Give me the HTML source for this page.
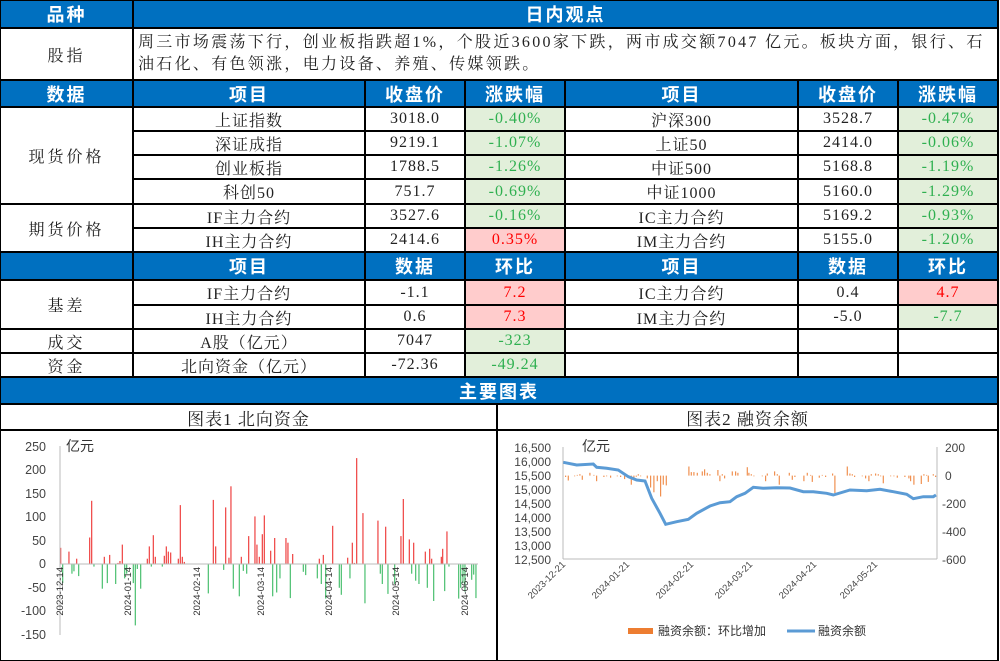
<!DOCTYPE html>
<html><head><meta charset="utf-8"><style>
body{margin:0;width:1000px;height:661px;background:#fff;position:relative;overflow:hidden;font-family:"Liberation Serif","Noto Serif CJK SC",serif;}
.c{position:absolute;box-sizing:border-box;border:1px solid #000;outline:1px solid #000;display:flex;align-items:center;justify-content:center;font-size:16px;letter-spacing:1px;color:#222;white-space:nowrap;background:#fff}
.h{background:#0070c0;color:#fff;font-family:"Liberation Sans","Noto Sans CJK SC",sans-serif;font-weight:bold;font-size:18px;letter-spacing:2px}
.g{background:#e2efda;color:#2fb050}
.r{background:#ffcccc;color:#f00}
svg text{font-family:"Liberation Sans","Noto Sans CJK SC",sans-serif}
</style></head><body>
<div class="c h" style="left:0;top:0;width:133px;height:28px">品种</div>
<div class="c h" style="left:133px;top:0;width:865px;height:28px">日内观点</div>
<div class="c" style="left:0;top:28px;width:133px;height:52px;letter-spacing:3px">股指</div>
<div class="c" style="left:133px;top:28px;width:865px;height:52px;justify-content:flex-start;align-items:flex-start;white-space:normal;line-height:22px;padding:3px 4px;letter-spacing:2.3px">周三市场震荡下行，创业板指跌超1%，个股近3600家下跌，两市成交额7047 亿元。板块方面，银行、石油石化、有色领涨，电力设备、养殖、传媒领跌。</div>

<div class="c h" style="left:0;top:80px;width:133px;height:27px">数据</div>
<div class="c h" style="left:133px;top:80px;width:232px;height:27px">项目</div>
<div class="c h" style="left:365px;top:80px;width:100px;height:27px">收盘价</div>
<div class="c h" style="left:465px;top:80px;width:100px;height:27px">涨跌幅</div>
<div class="c h" style="left:565px;top:80px;width:233px;height:27px">项目</div>
<div class="c h" style="left:798px;top:80px;width:100px;height:27px">收盘价</div>
<div class="c h" style="left:898px;top:80px;width:100px;height:27px">涨跌幅</div>

<div class="c" style="left:0;top:107px;width:133px;height:97px;letter-spacing:3px">现货价格</div>
<div class="c" style="left:0;top:204px;width:133px;height:48px;letter-spacing:3px">期货价格</div>

<div class="c" style="left:133px;top:107px;width:232px;height:24px">上证指数</div>
<div class="c" style="left:365px;top:107px;width:100px;height:24px">3018.0</div>
<div class="c g" style="left:465px;top:107px;width:100px;height:24px">-0.40%</div>
<div class="c" style="left:565px;top:107px;width:233px;height:24px">沪深300</div>
<div class="c" style="left:798px;top:107px;width:100px;height:24px">3528.7</div>
<div class="c g" style="left:898px;top:107px;width:100px;height:24px">-0.47%</div>

<div class="c" style="left:133px;top:131px;width:232px;height:24px">深证成指</div>
<div class="c" style="left:365px;top:131px;width:100px;height:24px">9219.1</div>
<div class="c g" style="left:465px;top:131px;width:100px;height:24px">-1.07%</div>
<div class="c" style="left:565px;top:131px;width:233px;height:24px">上证50</div>
<div class="c" style="left:798px;top:131px;width:100px;height:24px">2414.0</div>
<div class="c g" style="left:898px;top:131px;width:100px;height:24px">-0.06%</div>

<div class="c" style="left:133px;top:155px;width:232px;height:24px">创业板指</div>
<div class="c" style="left:365px;top:155px;width:100px;height:24px">1788.5</div>
<div class="c g" style="left:465px;top:155px;width:100px;height:24px">-1.26%</div>
<div class="c" style="left:565px;top:155px;width:233px;height:24px">中证500</div>
<div class="c" style="left:798px;top:155px;width:100px;height:24px">5168.8</div>
<div class="c g" style="left:898px;top:155px;width:100px;height:24px">-1.19%</div>

<div class="c" style="left:133px;top:179px;width:232px;height:25px">科创50</div>
<div class="c" style="left:365px;top:179px;width:100px;height:25px">751.7</div>
<div class="c g" style="left:465px;top:179px;width:100px;height:25px">-0.69%</div>
<div class="c" style="left:565px;top:179px;width:233px;height:25px">中证1000</div>
<div class="c" style="left:798px;top:179px;width:100px;height:25px">5160.0</div>
<div class="c g" style="left:898px;top:179px;width:100px;height:25px">-1.29%</div>

<div class="c" style="left:133px;top:204px;width:232px;height:24px">IF主力合约</div>
<div class="c" style="left:365px;top:204px;width:100px;height:24px">3527.6</div>
<div class="c g" style="left:465px;top:204px;width:100px;height:24px">-0.16%</div>
<div class="c" style="left:565px;top:204px;width:233px;height:24px">IC主力合约</div>
<div class="c" style="left:798px;top:204px;width:100px;height:24px">5169.2</div>
<div class="c g" style="left:898px;top:204px;width:100px;height:24px">-0.93%</div>

<div class="c" style="left:133px;top:228px;width:232px;height:24px">IH主力合约</div>
<div class="c" style="left:365px;top:228px;width:100px;height:24px">2414.6</div>
<div class="c r" style="left:465px;top:228px;width:100px;height:24px">0.35%</div>
<div class="c" style="left:565px;top:228px;width:233px;height:24px">IM主力合约</div>
<div class="c" style="left:798px;top:228px;width:100px;height:24px">5155.0</div>
<div class="c g" style="left:898px;top:228px;width:100px;height:24px">-1.20%</div>

<div class="c h" style="left:0;top:252px;width:133px;height:28px"></div>
<div class="c h" style="left:133px;top:252px;width:232px;height:28px">项目</div>
<div class="c h" style="left:365px;top:252px;width:100px;height:28px">数据</div>
<div class="c h" style="left:465px;top:252px;width:100px;height:28px">环比</div>
<div class="c h" style="left:565px;top:252px;width:233px;height:28px">项目</div>
<div class="c h" style="left:798px;top:252px;width:100px;height:28px">数据</div>
<div class="c h" style="left:898px;top:252px;width:100px;height:28px">环比</div>

<div class="c" style="left:0;top:280px;width:133px;height:49px;letter-spacing:3px">基差</div>
<div class="c" style="left:133px;top:280px;width:232px;height:25px">IF主力合约</div>
<div class="c" style="left:365px;top:280px;width:100px;height:25px">-1.1</div>
<div class="c r" style="left:465px;top:280px;width:100px;height:25px">7.2</div>
<div class="c" style="left:565px;top:280px;width:233px;height:25px">IC主力合约</div>
<div class="c" style="left:798px;top:280px;width:100px;height:25px">0.4</div>
<div class="c r" style="left:898px;top:280px;width:100px;height:25px">4.7</div>

<div class="c" style="left:133px;top:305px;width:232px;height:24px">IH主力合约</div>
<div class="c" style="left:365px;top:305px;width:100px;height:24px">0.6</div>
<div class="c r" style="left:465px;top:305px;width:100px;height:24px">7.3</div>
<div class="c" style="left:565px;top:305px;width:233px;height:24px">IM主力合约</div>
<div class="c" style="left:798px;top:305px;width:100px;height:24px">-5.0</div>
<div class="c g" style="left:898px;top:305px;width:100px;height:24px">-7.7</div>

<div class="c" style="left:0;top:329px;width:133px;height:24px;letter-spacing:3px">成交</div>
<div class="c" style="left:133px;top:329px;width:232px;height:24px">A股（亿元）</div>
<div class="c" style="left:365px;top:329px;width:100px;height:24px">7047</div>
<div class="c g" style="left:465px;top:329px;width:100px;height:24px">-323</div>
<div class="c" style="left:565px;top:329px;width:233px;height:24px"></div>
<div class="c" style="left:798px;top:329px;width:100px;height:24px"></div>
<div class="c" style="left:898px;top:329px;width:100px;height:24px"></div>

<div class="c" style="left:0;top:353px;width:133px;height:24px;letter-spacing:3px">资金</div>
<div class="c" style="left:133px;top:353px;width:232px;height:24px">北向资金（亿元）</div>
<div class="c" style="left:365px;top:353px;width:100px;height:24px">-72.36</div>
<div class="c g" style="left:465px;top:353px;width:100px;height:24px">-49.24</div>
<div class="c" style="left:565px;top:353px;width:233px;height:24px"></div>
<div class="c" style="left:798px;top:353px;width:100px;height:24px"></div>
<div class="c" style="left:898px;top:353px;width:100px;height:24px"></div>

<div class="c h" style="left:0;top:377px;width:998px;height:27px">主要图表</div>
<div class="c" style="left:0;top:404px;width:497px;height:26px;font-size:17px">图表1  北向资金</div>
<div class="c" style="left:497px;top:404px;width:501px;height:26px;font-size:17px">图表2  融资余额</div>
<div class="c" style="left:0;top:430px;width:497px;height:231px"></div>
<div class="c" style="left:497px;top:430px;width:501px;height:231px"></div>

<svg id="s" width="1000" height="661" style="position:absolute;left:0;top:0" font-size="12" fill="#444">
<g id="b1"></g><g id="b2"></g>
<line x1="60" y1="446" x2="60" y2="635" stroke="#bbb"/>
<line x1="60" y1="564" x2="478" y2="564" stroke="#bbb"/>
<g text-anchor="end" font-size="12.5">
<text x="46" y="451">250</text><text x="46" y="474">200</text><text x="46" y="498">150</text><text x="46" y="521">100</text><text x="46" y="545">50</text><text x="46" y="568">0</text><text x="46" y="592">-50</text><text x="46" y="615">-100</text><text x="46" y="639">-150</text>
</g>
<text x="66" y="451" font-size="14" fill="#333">亿元</text>
<g font-size="9.5" fill="#333" text-anchor="end">
<text transform="translate(63,567) rotate(-90)">2023-12-14</text>
<text transform="translate(131,567) rotate(-90)">2024-01-14</text>
<text transform="translate(200,567) rotate(-90)">2024-02-14</text>
<text transform="translate(264,567) rotate(-90)">2024-03-14</text>
<text transform="translate(332,567) rotate(-90)">2024-04-14</text>
<text transform="translate(399,567) rotate(-90)">2024-05-14</text>
<text transform="translate(468,567) rotate(-90)">2024-06-14</text>
</g>
<line x1="563" y1="447" x2="563" y2="559" stroke="#bbb"/>
<line x1="937" y1="447" x2="937" y2="559" stroke="#bbb"/>
<line x1="563" y1="559" x2="937" y2="559" stroke="#bbb"/>
<g text-anchor="end">
<text x="551" y="452">16,500</text><text x="551" y="466">16,000</text><text x="551" y="480">15,500</text><text x="551" y="494">15,000</text><text x="551" y="508">14,500</text><text x="551" y="522">14,000</text><text x="551" y="536">13,500</text><text x="551" y="550">13,000</text><text x="551" y="564">12,500</text>
</g>
<g text-anchor="start">
<text x="945" y="452">200</text><text x="945" y="480">0</text><text x="942" y="508">-200</text><text x="942" y="536">-400</text><text x="942" y="564">-600</text>
</g>
<text x="582" y="451" font-size="14" fill="#333">亿元</text>
<g font-size="9.5" fill="#444" text-anchor="end">
<text transform="translate(566,565) rotate(-45)">2023-12-21</text>
<text transform="translate(630,565) rotate(-45)">2024-01-21</text>
<text transform="translate(694,565) rotate(-45)">2024-02-21</text>
<text transform="translate(753,565) rotate(-45)">2024-03-21</text>
<text transform="translate(817,565) rotate(-45)">2024-04-21</text>
<text transform="translate(878,565) rotate(-45)">2024-05-21</text>
</g>
<rect x="628" y="628" width="25" height="6" fill="#ed7d31"/>
<text x="658" y="635" fill="#333">融资余额：环比增加</text>
<line x1="787" y1="631" x2="815" y2="631" stroke="#5b9bd5" stroke-width="3"/>
<text x="818" y="635" fill="#333">融资余额</text>
<path id="ln" fill="none" stroke="#5b9bd5" stroke-width="3"/>
</svg>
<script>
var d1=[[180,35],[186,-40],[205,27],[214,-20],[220,-15],[228,12],[234,-25],[267,57],[273,135],[280,-5],[305,-52],[311,16],[320,-40],[327,20],[345,-42],[352,3],[358,7],[365,42],[372,-30],[378,-20],[398,-40],[404,-130],[410,-10],[420,-52],[440,12],[446,38],[452,-5],[458,62],[464,16],[485,-5],[491,18],[497,38],[503,27],[510,25],[533,12],[539,126],[545,16],[551,5],[623,-62],[638,137],[645,38],[669,-12],[675,121],[685,14],[691,166],[698,-52],[716,-68],[722,16],[728,-14],[738,-20],[744,60],[763,102],[769,42],[776,16],[785,64],[791,104],[810,29],[816,-68],[822,56],[828,-60],[838,-30],[856,56],[862,46],[869,-72],[876,22],[908,-16],[915,-23],[950,-30],[956,12],[962,-42],[968,20],[975,-73],[996,82],[1016,-50],[1022,-65],[1041,14],[1048,-30],[1055,46],[1061,3],[1068,226],[1087,109],[1093,-83],[1132,93],[1139,-20],[1145,-42],[1155,80],[1162,-63],[1182,-42],[1201,60],[1208,139],[1226,53],[1233,-20],[1239,46],[1245,-35],[1255,-42],[1274,27],[1280,-50],[1287,33],[1293,12],[1299,-78],[1322,16],[1326,33],[1332,-57],[1339,70],[1345,-5],[1374,-73],[1380,-50],[1387,-40],[1393,-58],[1413,-33],[1419,-22],[1426,-72]];
var h='',z=564.3,k=0.47;
d1.forEach(function(p){var x=p[0]/3,v=p[1]*k;h+='<rect x="'+x.toFixed(1)+'" y="'+(v>0?z-v:z).toFixed(1)+'" width="1.3" height="'+Math.abs(v).toFixed(1)+'" fill="'+(v>0?'#f0504f':'#58c47a')+'"/>';});
document.getElementById('b1').innerHTML=h;
var L=[[190,187],[230,195],[280,192],[290,202],[320,205],[355,210],[385,230],[410,240],[435,243],[455,295],[480,340],[497,373],[530,365],[565,358],[590,340],[630,318],[660,308],[690,305],[710,290],[735,280],[760,262],[790,265],[830,263],[870,264],[910,275],[940,275],[980,280],[1000,285],[1050,270],[1100,272],[1140,268],[1180,275],[1220,283],[1240,296],[1270,290],[1300,290],[1308,285]];
document.getElementById('ln').setAttribute('d','M'+L.map(function(p){return (p[0]/3+500).toFixed(1)+','+(p[1]/3+400).toFixed(1)}).join('L'));
var d2=[[195,-10],[203,-35],[222,-5],[230,5],[238,10],[245,-30],[268,20],[280,5],[288,-40],[310,-10],[318,-5],[330,-15],[350,-5],[360,-10],[372,-25],[392,-65],[400,-20],[407,-8],[413,10],[420,-5],[440,-20],[450,-85],[460,-120],[470,-40],[480,-150],[488,-65],[497,-70],[565,65],[572,25],[580,25],[590,20],[605,30],[612,45],[620,20],[628,10],[652,40],[658,-40],[665,10],[672,-20],[695,30],[705,30],[712,20],[740,60],[745,20],[752,10],[760,-5],[785,-5],[795,-40],[800,15],[822,30],[830,10],[836,-65],[866,20],[875,-30],[883,-10],[910,-40],[920,20],[930,5],[935,-45],[956,-15],[965,5],[975,-10],[996,15],[1003,-125],[1040,65],[1048,15],[1055,10],[1062,-10],[1085,-5],[1095,-20],[1105,-40],[1112,10],[1125,15],[1133,10],[1140,-5],[1148,-55],[1170,-5],[1180,-5],[1190,-15],[1213,-10],[1225,-20],[1230,-40],[1240,-65],[1262,-60],[1270,10],[1278,5],[1283,-45],[1298,10],[1305,-10]];
h='';z=475.6;k=0.1395;
d2.forEach(function(p){var x=p[0]/3+500,v=p[1]*k;h+='<rect x="'+x.toFixed(1)+'" y="'+(v>0?z-v:z).toFixed(1)+'" width="1.2" height="'+Math.abs(v).toFixed(1)+'" fill="#ed7d31" opacity="0.85"/>';});
document.getElementById('b2').innerHTML=h;
</script>
</body></html>
